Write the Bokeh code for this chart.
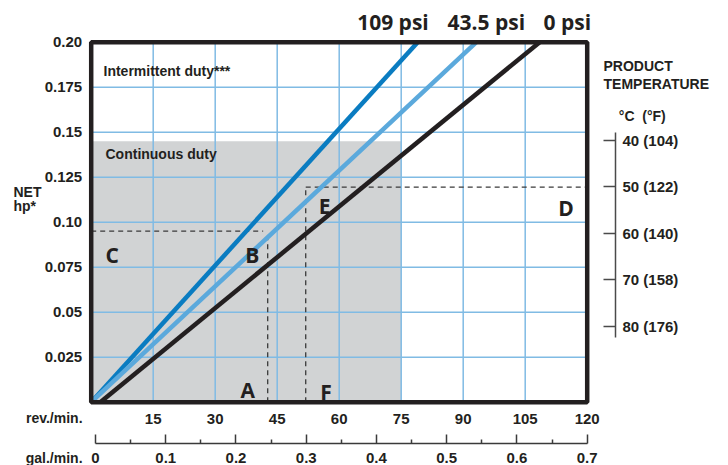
from bokeh.plotting import figure
from bokeh.models import Range1d, LinearAxis, FixedTicker, Label, ColumnDataSource
from bokeh.embed import file_html
from bokeh.resources import INLINE

# ---------------- data ----------------
rev_ticks = [15, 30, 45, 60, 75, 90, 105, 120]
hp_ticks = [0.025, 0.05, 0.075, 0.1, 0.125, 0.15, 0.175, 0.2]
hp_tick_labels = ["0.025", "0.05", "0.075", "0.10", "0.125", "0.15", "0.175", "0.20"]
gal_ticks = [0.0, 0.1, 0.2, 0.3, 0.4, 0.5, 0.6, 0.7]
gal_minor_ticks = [0.05, 0.15, 0.25, 0.35, 0.45, 0.55, 0.65]
gal_tick_labels = ["0", "0.1", "0.2", "0.3", "0.4", "0.5", "0.6", "0.7"]
temp_c = [40, 50, 60, 70, 80]
temp_f = [104, 122, 140, 158, 176]

pressure_labels = ["109 psi", "43.5 psi", "0 psi"]
line_rev_at_zero_hp = [0.0, 0.0, 2.2]
line_rev_at_max_hp = [79.0, 93.2, 108.5]

rev_max = 120
hp_max = 0.2
continuous_rev_max = 75
continuous_hp_max = 0.145

grid_rev = [15, 30, 45, 60, 75, 90, 105]
grid_hp = [0.025, 0.05, 0.075, 0.1, 0.125, 0.15, 0.175]

guide_c_hp = 0.095
guide_c_rev = 41.6
guide_a_rev = 42.7
guide_a_hp = 0.0935
guide_f_rev = 51.9
guide_d_hp = 0.1195

letters = ["A", "B", "C", "D", "E", "F"]
letter_rev = [37.9, 38.95, 5.1, 114.9, 56.45, 56.8]
letter_hp = [0.0026, 0.0778, 0.0778, 0.1037, 0.1047, 0.0013]

# ---------------- styles / layout ----------------
INK = "#231f20"
line_colors = ["#0a7cc1", "#5ba9dc", INK]
GRID = "#80bbe4"
GRAY = "#d1d3d4"
FONT = "Liberation Sans"
FONT2 = "Open Sans"

W, H = 728, 465
PX_PER_REV = 62 / 15.0
PX_PER_HP = 1800.0
X0, Y0 = 90.7, 401.7          # canvas position of (0 rev, 0 hp)
x_start = -X0 / PX_PER_REV
x_end = (W - X0) / PX_PER_REV
y_start = -(H - Y0) / PX_PER_HP
y_end = Y0 / PX_PER_HP

gal_zero_rev = 1.04
gal_k = 0.7 / (rev_max - gal_zero_rev)
temp_per_hp = 10 / (46.5 / PX_PER_HP)
t40_hp = 0.14539


def hp_to_temp(h):
    return 40 + (t40_hp - h) * temp_per_hp


p = figure(width=W, height=H,
           x_range=Range1d(x_start, x_end), y_range=Range1d(y_start, y_end),
           output_backend="svg", toolbar_location=None,
           min_border=0, min_border_left=0, min_border_right=0,
           min_border_top=0, min_border_bottom=0,
           background_fill_color="white", border_fill_color="white",
           outline_line_color=None)
p.xgrid.visible = False
p.ygrid.visible = False

p.extra_x_ranges = {"gal": Range1d((x_start - gal_zero_rev) * gal_k, (x_end - gal_zero_rev) * gal_k)}
p.extra_y_ranges = {"temp": Range1d(hp_to_temp(y_start), hp_to_temp(y_end))}

# continuous-duty area
p.quad(left=[0], right=[continuous_rev_max], bottom=[0], top=[continuous_hp_max],
       fill_color=GRAY, line_color=None)

# grid
p.segment(x0=grid_rev, y0=[0] * len(grid_rev), x1=grid_rev, y1=[hp_max] * len(grid_rev),
          line_color=GRID, line_width=1.5)
p.segment(x0=[0] * len(grid_hp), y0=grid_hp, x1=[rev_max] * len(grid_hp), y1=grid_hp,
          line_color=GRID, line_width=1.5)

# dashed guides
dash = dict(line_color="#3a3a3a", line_width=1.3, line_dash="5 4")
p.line([0, guide_c_rev], [guide_c_hp, guide_c_hp], **dash)
p.line([guide_a_rev, guide_a_rev], [0, guide_a_hp], **dash)
p.line([guide_f_rev, guide_f_rev], [0, guide_d_hp], **dash)
p.line([guide_f_rev, rev_max], [guide_d_hp, guide_d_hp], **dash)

# pressure lines
src = ColumnDataSource(dict(x0=line_rev_at_zero_hp, y0=[0] * 3, x1=line_rev_at_max_hp,
                            y1=[hp_max] * 3, c=line_colors))
p.segment(x0="x0", y0="y0", x1="x1", y1="y1", line_color="c", line_width=4.5, source=src)

# border
p.quad(left=[0], right=[rev_max], bottom=[0], top=[hp_max], fill_color=None,
       line_color=INK, line_width=4.5)

# rev axis (default below)
xa = p.xaxis[0]
xa.fixed_location = 0
xa.ticker = FixedTicker(ticks=rev_ticks)
xa.major_tick_in = 0
xa.major_tick_out = 0
xa.minor_tick_line_color = None
xa.axis_line_color = None
xa.major_label_standoff = 12
xa.major_label_text_font = FONT
xa.major_label_text_font_style = "bold"
xa.major_label_text_font_size = "15px"
xa.major_label_text_color = INK

ya = p.yaxis[0]
ya.fixed_location = 0
ya.ticker = FixedTicker(ticks=hp_ticks)
ya.major_label_overrides = dict(zip(hp_ticks, hp_tick_labels))
ya.major_tick_in = 0
ya.major_tick_out = 0
ya.minor_tick_line_color = None
ya.axis_line_color = None
ya.major_label_standoff = 9
ya.major_label_text_font = FONT
ya.major_label_text_font_style = "bold"
ya.major_label_text_font_size = "15px"
ya.major_label_text_color = INK

gal_axis = LinearAxis(x_range_name="gal", fixed_location=-41.7 / PX_PER_HP,
                      ticker=FixedTicker(ticks=gal_ticks, minor_ticks=gal_minor_ticks),
                      bounds=(0, 0.7),
                      major_label_overrides=dict(zip(gal_ticks, gal_tick_labels)),
                      major_tick_in=9, major_tick_out=0, minor_tick_in=4, minor_tick_out=0,
                      axis_line_width=1.5, axis_line_color="#3a3a3a",
                      major_tick_line_width=1.5, major_tick_line_color="#3a3a3a",
                      minor_tick_line_width=1.5, minor_tick_line_color="#3a3a3a",
                      major_label_standoff=9, major_label_text_font=FONT,
                      major_label_text_font_style="bold", major_label_text_font_size="15px",
                      major_label_text_color=INK)
p.add_layout(gal_axis, "below")

temp_axis = LinearAxis(y_range_name="temp", fixed_location=(615 - X0) / PX_PER_REV,
                       ticker=FixedTicker(ticks=temp_c),
                       major_label_overrides={c: f"{c} ({f})" for c, f in zip(temp_c, temp_f)},
                       bounds=(38.3, 82.3),
                       major_tick_in=12, major_tick_out=0,
                       minor_tick_line_color=None,
                       axis_line_width=1.5, axis_line_color="#4a4a4a",
                       major_tick_line_width=1.5, major_tick_line_color="#4a4a4a",
                       major_label_standoff=7, major_label_text_font=FONT,
                       major_label_text_font_style="bold", major_label_text_font_size="15px",
                       major_label_text_color=INK)
p.add_layout(temp_axis, "right")


def lab(x, y, text, size, align="left", font=FONT, lift_px=6.0):
    p.add_layout(Label(x=x, y=y + lift_px / PX_PER_HP, text=text, text_font=font,
                       text_font_style="bold", text_font_size=size, text_align=align,
                       text_baseline="alphabetic", text_color=INK))


# pressure labels
for t, xr in zip(pressure_labels, [73.0, 95.6, 115.2]):
    lab(xr, 0.2074, t, "21px", "center", FONT2, 7.0)

# letters
for t, xr, yh in zip(letters, letter_rev, letter_hp):
    lab(xr, yh, t, "21px", "center", FONT2, 7.5)

lab(2.98, 0.1809, "Intermittent duty***", "14px")
lab(3.46, 0.1347, "Continuous duty", "14px")
lab(-18.8, 0.1133, "NET", "14px")
lab(-18.8, 0.1054, "hp*", "14px")
lab(-2.1, -0.0120, "rev./min.", "14px", "right")
lab(-2.1, -0.0343, "gal./min.", "14px", "right")
lab(123.94, 0.1833, "PRODUCT", "14px")
lab(123.94, 0.1732, "TEMPERATURE", "14px")
lab(127.65, 0.1556, "\u00b0C\u00a0\u00a0(\u00b0F)", "14px")

open("out.html", "w").write(file_html(p, INLINE))
